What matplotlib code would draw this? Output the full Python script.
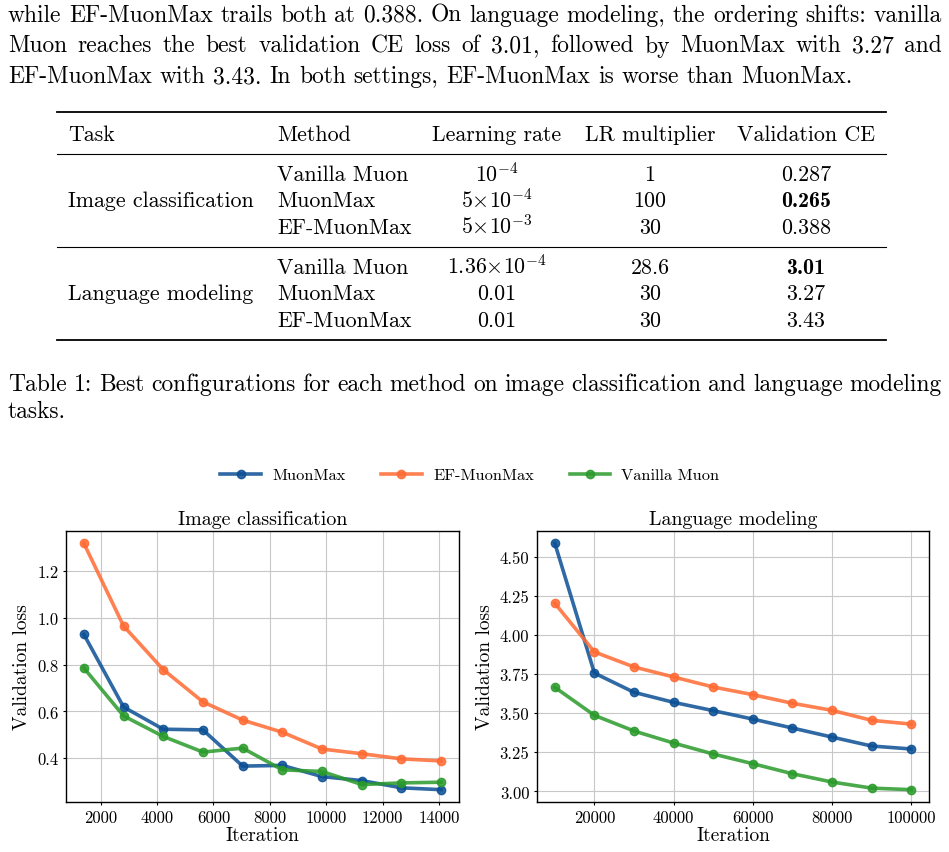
import matplotlib
matplotlib.use("Agg")
import matplotlib.pyplot as plt
from matplotlib.lines import Line2D

plt.rcParams['font.family'] = 'cmr10'
plt.rcParams['mathtext.fontset'] = 'cm'
plt.rcParams['axes.unicode_minus'] = False
plt.rcParams['axes.formatter.use_mathtext'] = True

# ---- text of the page ----
para_lines = [
    "while EF-MuonMax trails both at 0.388. On language modeling, the ordering shifts: vanilla",
    "Muon reaches the best validation CE loss of 3.01, followed by MuonMax with 3.27 and",
    "EF-MuonMax with 3.43. In both settings, EF-MuonMax is worse than MuonMax.",
]
caption_lines = [
    "Table 1: Best configurations for each method on image classification and language modeling",
    "tasks.",
]

# ---- table ----
header = ["Task", "Method", "Learning rate", "LR multiplier", "Validation CE"]
tasks = ["Image classification", "Language modeling"]
methods = ["Vanilla Muon", "MuonMax", "EF-MuonMax"]
lrs = [[r"$10^{-4}$", r"$5{\times}10^{-4}$", r"$5{\times}10^{-3}$"],
       [r"$1.36{\times}10^{-4}$", "0.01", "0.01"]]
mults = [["1", "100", "30"], ["28.6", "30", "30"]]
val_ce = [["0.287", "0.265", "0.388"], ["3.01", "3.27", "3.43"]]
best = [1, 0]

# ---- curves ----
img_iters = [1407, 2814, 4221, 5628, 7035, 8442, 9849, 11256, 12663, 14070]
img_muonmax = [0.930, 0.619, 0.524, 0.521, 0.366, 0.369, 0.321, 0.304, 0.273, 0.265]
img_ef = [1.320, 0.966, 0.779, 0.641, 0.563, 0.511, 0.439, 0.419, 0.397, 0.388]
img_vanilla = [0.786, 0.581, 0.493, 0.426, 0.443, 0.350, 0.343, 0.287, 0.294, 0.297]

lm_iters = [10000, 20000, 30000, 40000, 50000, 60000, 70000, 80000, 90000, 100000]
lm_muonmax = [4.585, 3.756, 3.633, 3.569, 3.516, 3.462, 3.405, 3.347, 3.290, 3.271]
lm_ef = [4.202, 3.891, 3.795, 3.731, 3.667, 3.618, 3.563, 3.518, 3.454, 3.430]
lm_vanilla = [3.665, 3.486, 3.386, 3.309, 3.239, 3.177, 3.113, 3.060, 3.021, 3.011]

series_names = ["MuonMax", "EF-MuonMax", "Vanilla Muon"]
colors = ["#0b4f94", "#FF6A33", "#2A9A2A"]

W, H = 949, 853
fig = plt.figure(figsize=(W / 100, H / 100), dpi=100)
rend = fig.canvas.get_renderer()


def fx(x):
    return x / W


def fy(y):
    return 1 - y / H


TXT = 16.9   # paragraph / caption
TAB = 15.8   # table


def put_line(line, y, x0=8, x1=942, justify=True, size=TXT):
    words = line.split(" ")
    arts = [fig.text(0, fy(y), w, fontsize=size, va='baseline') for w in words]
    widths = [a.get_window_extent(rend).width for a in arts]
    if justify and len(words) > 1:
        gap = (x1 - x0 - sum(widths)) / (len(words) - 1)
    else:
        gap = size * 100 / 72 * 0.333
    x = x0
    for a, w in zip(arts, widths):
        a.set_x(fx(x))
        x += w + gap


for i, line in enumerate(para_lines):
    put_line(line, 22 + i * 30.5, justify=(i < 2))

# table
col_x = [68, 277, 497, 650, 806]
col_ha = ['left', 'left', 'center', 'center', 'center']


def rule(y, lw):
    fig.add_artist(Line2D([fx(57), fx(886)], [fy(y), fy(y)], color='black', lw=lw,
                          transform=fig.transFigure))


rule(113, 1.3)
for c, h in enumerate(header):
    fig.text(fx(col_x[c]), fy(141), h, fontsize=TAB, ha=col_ha[c], va='baseline')
rule(155, 0.8)
row_y = [[181, 207, 234], [274, 300, 327]]
for g in range(2):
    fig.text(fx(col_x[0]), fy(row_y[g][1]), tasks[g], fontsize=TAB, va='baseline')
    for r in range(3):
        y = fy(row_y[g][r])
        fig.text(fx(col_x[1]), y, methods[r], fontsize=TAB, va='baseline')
        fig.text(fx(col_x[2]), y, lrs[g][r], fontsize=TAB, ha='center', va='baseline')
        fig.text(fx(col_x[3]), y, mults[g][r], fontsize=TAB, ha='center', va='baseline')
        fam = 'cmb10' if r == best[g] else 'cmr10'
        fig.text(fx(col_x[4]), y, val_ce[g][r], fontsize=TAB, ha='center', va='baseline',
                 family=fam)
rule(248, 0.8)
rule(341, 1.3)

put_line(caption_lines[0], 391)
put_line(caption_lines[1], 418, justify=False)

# charts
ax1 = fig.add_axes([fx(66), fy(803), fx(459 - 66), (803 - 532) / H])
ax2 = fig.add_axes([fx(537), fy(803), fx(929 - 537), (803 - 532) / H])

panels = [
    (ax1, img_iters, [img_muonmax, img_ef, img_vanilla], "Image classification"),
    (ax2, lm_iters, [lm_muonmax, lm_ef, lm_vanilla], "Language modeling"),
]
for ax, xs, ys, title in panels:
    for vals, col, name in zip(ys, colors, series_names):
        ax.plot(xs, vals, '-o', color=col, lw=2.6, markersize=6, alpha=0.85, label=name)
    ax.grid(True, color='#c8c8c8', lw=0.8)
    ax.set_axisbelow(True)
    ax.tick_params(length=2.5, width=0.8, pad=3, labelsize=12)
    ax.set_title(title, fontsize=14.4, pad=5)
    ax.set_xlabel("Iteration", fontsize=14, labelpad=1)
    ax.set_ylabel("Validation loss", fontsize=14, labelpad=4)
    for s in ax.spines.values():
        s.set_linewidth(1.0)

ax1.set_xticks([2000, 4000, 6000, 8000, 10000, 12000, 14000])
ax1.set_yticks([0.4, 0.6, 0.8, 1.0, 1.2])
ax1.set_yticklabels(["0.4", "0.6", "0.8", "1.0", "1.2"])
ax2.set_xticks([20000, 40000, 60000, 80000, 100000])
ax2.set_yticks([3.0, 3.25, 3.5, 3.75, 4.0, 4.25, 4.5])
ax2.set_yticklabels(["3.00", "3.25", "3.50", "3.75", "4.00", "4.25", "4.50"])
ax1.set_xticklabels([str(t) for t in ax1.get_xticks()])
ax2.set_xticklabels([str(t) for t in ax2.get_xticks()])

handles, labels = ax1.get_legend_handles_labels()
fig.legend(handles, labels, loc='center', bbox_to_anchor=(fx(470), fy(476)), ncol=3,
           frameon=False, fontsize=11.8, handlelength=2.45, handletextpad=0.7,
           columnspacing=2.2)

fig.savefig("out.png", dpi=100)
